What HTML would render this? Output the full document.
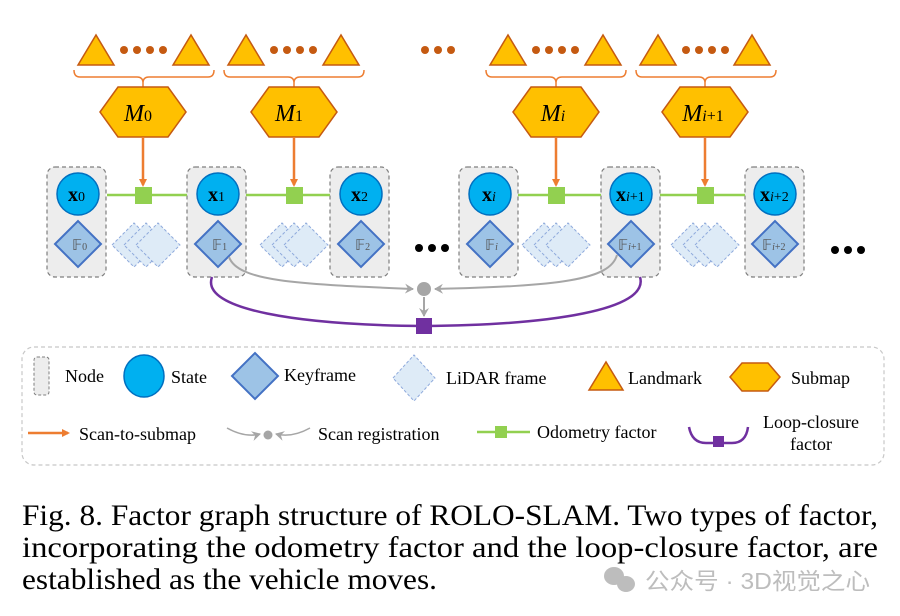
<!DOCTYPE html>
<html><head><meta charset="utf-8"><style>
html,body{margin:0;padding:0;background:#fff;}
svg{display:block;}
.ser{font-family:"Liberation Serif",serif;}
</style></head><body>
<svg width="900" height="616" viewBox="0 0 900 616" xmlns="http://www.w3.org/2000/svg">
<defs>
<marker id="ao" markerWidth="8" markerHeight="8" refX="6" refY="4" orient="auto" markerUnits="userSpaceOnUse"><path d="M0,0 L8,4 L0,8 Z" fill="#ED7D31"/></marker>
<marker id="ag" markerWidth="10" markerHeight="10" refX="8" refY="5" orient="auto" markerUnits="userSpaceOnUse"><path d="M0,0 L9,5 L0,10 L3,5 Z" fill="#A6A6A6"/></marker>
<g id="tri"><path d="M-18,15 L0,-15 L18,15 Z" fill="#FFC000" stroke="#C55A11" stroke-width="1.5"/></g>
<g id="hex"><path d="M-43,0 L-25,-25 L25,-25 L43,0 L25,25 L-25,25 Z" fill="#FFC000" stroke="#C55A11" stroke-width="1.5"/></g>
<g id="lid"><path d="M-22,0 L0,-22 L22,0 L0,22 Z" fill="#DEEBF7" stroke="#8FAADC" stroke-width="1" stroke-dasharray="3,2"/></g>
<g id="lid3"><use href="#lid" x="-12"/><use href="#lid" x="0"/><use href="#lid" x="12"/></g>
<g id="kf"><path d="M-23,0 L0,-23 L23,0 L0,23 Z" fill="#9DC3E6" stroke="#4472C4" stroke-width="2"/></g>
<g id="st"><circle r="21" fill="#00B0F0" stroke="#0070C0" stroke-width="1.5"/></g>
<g id="nd"><rect x="0" y="0" width="59" height="110" rx="8" fill="#EDEDED" stroke="#7F7F7F" stroke-width="1.2" stroke-dasharray="4,3"/></g>
<g id="dots4" fill="#C55A11"><circle cx="0" r="4"/><circle cx="13" r="4"/><circle cx="26" r="4"/><circle cx="39" r="4"/></g>
</defs>

<g>
<use href="#tri" x="96" y="50"/><use href="#dots4" x="124" y="50"/><use href="#tri" x="191" y="50"/>
<use href="#tri" x="246" y="50"/><use href="#dots4" x="274" y="50"/><use href="#tri" x="341" y="50"/>
<g fill="#C55A11"><circle cx="425" cy="50" r="4"/><circle cx="438" cy="50" r="4"/><circle cx="451" cy="50" r="4"/></g>
<use href="#tri" x="508" y="50"/><use href="#dots4" x="536" y="50"/><use href="#tri" x="603" y="50"/>
<use href="#tri" x="658" y="50"/><use href="#dots4" x="686" y="50"/><use href="#tri" x="752" y="50"/>
</g>
<g fill="none" stroke="#ED7D31" stroke-width="1.5">
<path d="M74,70 Q74,77 80,77 L137,77 Q143,77 143,83 Q143,77 149,77 L208,77 Q214,77 214,70"/>
<path d="M224,70 Q224,77 230,77 L288,77 Q294,77 294,83 Q294,77 300,77 L358,77 Q364,77 364,70"/>
<path d="M486,70 Q486,77 492,77 L550,77 Q556,77 556,83 Q556,77 562,77 L620,77 Q626,77 626,70"/>
<path d="M636,70 Q636,77 642,77 L699,77 Q705,77 705,83 Q705,77 711,77 L770,77 Q776,77 776,70"/>
<line x1="143" y1="83" x2="143" y2="87"/><line x1="294" y1="83" x2="294" y2="87"/>
<line x1="556" y1="83" x2="556" y2="87"/><line x1="705" y1="83" x2="705" y2="87"/>
</g>
<use href="#hex" x="143" y="112"/><use href="#hex" x="294" y="112"/><use href="#hex" x="556" y="112"/><use href="#hex" x="705" y="112"/>
<g class="ser" font-style="italic" font-size="24" text-anchor="middle" fill="#000">
<text x="138" y="121">M<tspan font-style="normal" font-size="16">0</tspan></text>
<text x="289" y="121">M<tspan font-style="normal" font-size="16">1</tspan></text>
<text x="553" y="121">M<tspan font-size="16">i</tspan></text>
<text x="703" y="121">M<tspan font-size="16">i</tspan><tspan font-style="normal" font-size="16">+1</tspan></text>
</g>
<g stroke="#ED7D31" stroke-width="2.5" marker-end="url(#ao)">
<line x1="143" y1="137" x2="143" y2="185"/><line x1="294" y1="137" x2="294" y2="185"/>
<line x1="556" y1="137" x2="556" y2="185"/><line x1="705" y1="137" x2="705" y2="185"/>
</g>
<use href="#nd" x="47" y="167"/><use href="#nd" x="187" y="167"/><use href="#nd" x="330" y="167"/>
<use href="#nd" x="459" y="167"/><use href="#nd" x="601" y="167"/><use href="#nd" x="745" y="167"/>
<g stroke="#92D050" stroke-width="2.5">
<line x1="107" y1="195" x2="187" y2="195"/><line x1="246" y1="195" x2="330" y2="195"/>
<line x1="518" y1="195" x2="601" y2="195"/><line x1="660" y1="195" x2="745" y2="195"/>
</g>
<g fill="#92D050">
<rect x="135" y="187" width="17" height="17"/><rect x="286" y="187" width="17" height="17"/>
<rect x="548" y="187" width="17" height="17"/><rect x="697" y="187" width="17" height="17"/>
</g>
<use href="#st" x="78" y="194"/><use href="#st" x="218" y="194"/><use href="#st" x="361" y="194"/>
<use href="#st" x="490" y="194"/><use href="#st" x="631" y="194"/><use href="#st" x="775" y="194"/>
<g class="ser" font-weight="bold" font-size="20" fill="#000">
<text x="68" y="201">x<tspan font-weight="normal" font-size="14">0</tspan></text>
<text x="208" y="201">x<tspan font-weight="normal" font-size="14">1</tspan></text>
<text x="351" y="201">x<tspan font-weight="normal" font-size="14">2</tspan></text>
<text x="482" y="201">x<tspan font-weight="normal" font-style="italic" font-size="14">i</tspan></text>
<text x="616" y="201">x<tspan font-weight="normal" font-size="14"><tspan font-style="italic">i</tspan>+1</tspan></text>
<text x="760" y="201">x<tspan font-weight="normal" font-size="14"><tspan font-style="italic">i</tspan>+2</tspan></text>
</g>
<use href="#lid3" x="146" y="245"/><use href="#lid3" x="294" y="245"/>
<use href="#lid3" x="556" y="245"/><use href="#lid3" x="705" y="245"/>
<use href="#kf" x="78" y="244"/><use href="#kf" x="218" y="244"/><use href="#kf" x="361" y="244"/>
<use href="#kf" x="490" y="244"/><use href="#kf" x="631" y="244"/><use href="#kf" x="775" y="244"/>
<g class="ser" font-size="15" fill="#555">
<text x="72" y="250">𝔽<tspan font-size="10">0</tspan></text>
<text x="212" y="250">𝔽<tspan font-size="10">1</tspan></text>
<text x="355" y="250">𝔽<tspan font-size="10">2</tspan></text>
<text x="485" y="250">𝔽<tspan font-size="10" font-style="italic">i</tspan></text>
<text x="618" y="250">𝔽<tspan font-size="10"><tspan font-style="italic">i</tspan>+1</tspan></text>
<text x="762" y="250">𝔽<tspan font-size="10"><tspan font-style="italic">i</tspan>+2</tspan></text>
</g>
<g fill="#000"><circle cx="419" cy="248" r="4"/><circle cx="432" cy="248" r="4"/><circle cx="445" cy="248" r="4"/>
<circle cx="835" cy="250" r="4"/><circle cx="848" cy="250" r="4"/><circle cx="861" cy="250" r="4"/></g>
<g fill="none" stroke="#A6A6A6" stroke-width="2">
<path d="M229,257 C238,282 300,284 413,289" marker-end="url(#ag)"/>
<path d="M617,255 C610,280 560,286 435,289" marker-end="url(#ag)"/>
<line x1="424" y1="297" x2="424" y2="316" marker-end="url(#ag)"/>
</g>
<circle cx="424" cy="289" r="7" fill="#A6A6A6"/>
<path d="M212,277 C200,310 300,325 424,326 C550,325 650,310 640,277" fill="none" stroke="#7030A0" stroke-width="2.5"/>
<rect x="416" y="318" width="16" height="16" fill="#7030A0"/>

<!-- legend -->
<rect x="22" y="347" width="862" height="118" rx="12" fill="none" stroke="#C8C8C8" stroke-width="1.2" stroke-dasharray="4,3"/>
<g class="ser" font-size="18" fill="#000">
<rect x="34" y="357" width="15" height="38" rx="3" fill="#EDEDED" stroke="#7F7F7F" stroke-width="1" stroke-dasharray="3,2"/>
<text x="65" y="382">Node</text>
<ellipse cx="144" cy="376" rx="20" ry="21" fill="#00B0F0" stroke="#0070C0" stroke-width="1.5"/>
<text x="171" y="383">State</text>
<path d="M232,376 L255,353 L278,376 L255,399 Z" fill="#9DC3E6" stroke="#4472C4" stroke-width="2"/>
<text x="284" y="381">Keyframe</text>
<path d="M393,378 L414,355 L435,378 L414,401 Z" fill="#DEEBF7" stroke="#8FAADC" stroke-width="1" stroke-dasharray="3,2"/>
<text x="446" y="384">LiDAR frame</text>
<path d="M589,390 L606,362 L623,390 Z" fill="#FFC000" stroke="#C55A11" stroke-width="1.5"/>
<text x="628" y="384">Landmark</text>
<path d="M730,377 L742,363 L768,363 L780,377 L768,391 L742,391 Z" fill="#FFC000" stroke="#C55A11" stroke-width="1.5"/>
<text x="791" y="384">Submap</text>

<line x1="28" y1="433" x2="68" y2="433" stroke="#ED7D31" stroke-width="2.5" marker-end="url(#ao)"/>
<text x="79" y="440">Scan-to-submap</text>
<path d="M227,428 Q245,438 260,434" fill="none" stroke="#A6A6A6" stroke-width="1.5" marker-end="url(#ag)"/>
<path d="M310,428 Q292,438 276,434" fill="none" stroke="#A6A6A6" stroke-width="1.5" marker-end="url(#ag)"/>
<circle cx="268" cy="435" r="4.5" fill="#A6A6A6"/>
<text x="318" y="440">Scan registration</text>
<line x1="477" y1="432" x2="530" y2="432" stroke="#92D050" stroke-width="2.5"/>
<rect x="495" y="426" width="12" height="12" fill="#92D050"/>
<text x="537" y="438">Odometry factor</text>
<path d="M689,427 Q692,443 706,443 L732,443 Q746,443 748,427" fill="none" stroke="#7030A0" stroke-width="2.5"/>
<rect x="713" y="436" width="11" height="11" fill="#7030A0"/>
<text x="811" y="428" text-anchor="middle">Loop-closure</text>
<text x="811" y="450" text-anchor="middle">factor</text>
</g>

<g class="ser" font-size="30" fill="#000">
<text x="22" y="525" textLength="856" lengthAdjust="spacingAndGlyphs">Fig. 8. Factor graph structure of ROLO-SLAM. Two types of factor,</text>
<text x="22" y="557" textLength="856" lengthAdjust="spacingAndGlyphs">incorporating the odometry factor and the loop-closure factor, are</text>
<text x="22" y="589" textLength="415" lengthAdjust="spacingAndGlyphs">established as the vehicle moves.</text>
</g>
<g fill="#BDBDBD">
<ellipse cx="614" cy="576" rx="10" ry="9"/><ellipse cx="626" cy="584" rx="9" ry="8"/>
</g>
<text x="645" y="589" font-family="'Liberation Sans','Noto Sans CJK SC',sans-serif" font-size="23" fill="#BDBDBD" textLength="225" lengthAdjust="spacingAndGlyphs">公众号 · 3D视觉之心</text>
</svg>
</body></html>
